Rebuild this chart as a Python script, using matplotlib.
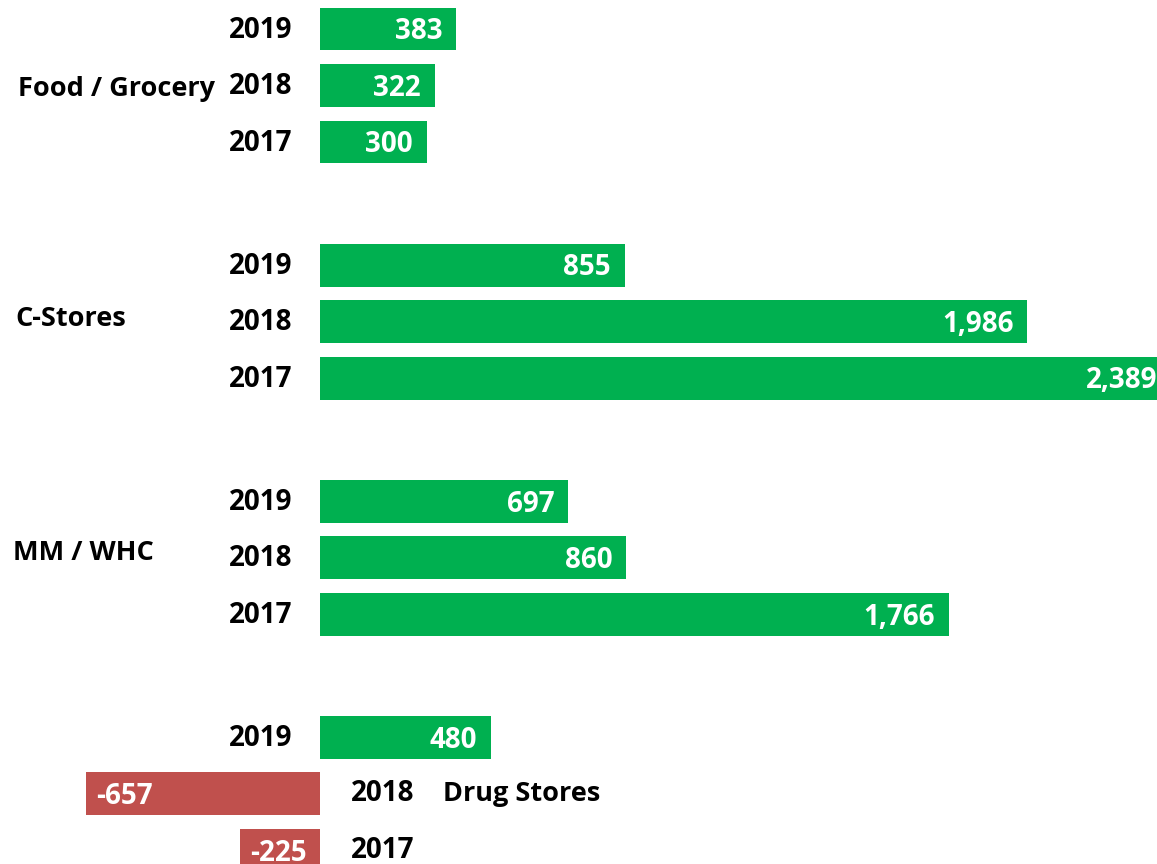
import matplotlib.pyplot as plt

# store formats and yearly change values
categories = ["Food / Grocery", "C-Stores", "MM / WHC", "Drug Stores"]
years = ["2019", "2018", "2017"]
values = [
    [383, 322, 300],
    [855, 1986, 2389],
    [697, 860, 1766],
    [480, -657, -225],
]

GREEN = "#00B050"
RED = "#C0504D"
GROUP_STEP = 4.18
BAR_H = 0.76
NUM_SIZE = 20
WORD_SIZE = 19.5

plt.rcParams["font.family"] = ["Open Sans", "DejaVu Sans"]
plt.rcParams["font.weight"] = "bold"

fig = plt.figure(figsize=(11.57, 8.64), dpi=100)
ax = fig.add_axes([0, 0, 1, 1])

# pixel-based limits so zero sits at x=320
px_per_unit = 0.3562
ax.set_xlim(-320 / px_per_unit, (1157 - 320) / px_per_unit)
ax.set_ylim(14.78, -0.513)
ax.axis("off")

def px_to_x(px):
    return (px - 320) / px_per_unit

pad = 14 / px_per_unit
dy_val = 0.05  # value labels sit a touch below bar centre
dy_year = 0.02

for g, (cat, vals) in enumerate(zip(categories, values)):
    for i, (yr, v) in enumerate(zip(years, vals)):
        y = g * GROUP_STEP + i
        color = GREEN if v >= 0 else RED
        ax.barh(y, v, height=BAR_H, color=color, edgecolor="none")
        label = f"{v:,}"
        if v >= 0:
            ax.text(v - pad, y + dy_val, label, color="white", fontsize=NUM_SIZE,
                    fontweight="bold", ha="right", va="center")
            ax.text(px_to_x(292), y + dy_year, yr, fontsize=NUM_SIZE,
                    fontweight="bold", ha="right", va="center", color="black")
        else:
            ax.text(v + 10 / px_per_unit, y + dy_val, label, color="white",
                    fontsize=NUM_SIZE, fontweight="bold", ha="left", va="center")
            # years for negative bars go on the right of the axis
            ax.text(px_to_x(351), y, yr, fontsize=NUM_SIZE,
                    fontweight="bold", ha="left", va="center", color="black")

# category labels
cat_pos = [(18, 1.07), (15, GROUP_STEP + 0.96), (13, 2 * GROUP_STEP + 0.92),
           (443, 3 * GROUP_STEP + 1.0)]
for cat, (px, y) in zip(categories, cat_pos):
    ax.text(px_to_x(px), y, cat, fontsize=WORD_SIZE, fontweight="bold",
            ha="left", va="center", color="black")

fig.savefig("out.png", dpi=100)
